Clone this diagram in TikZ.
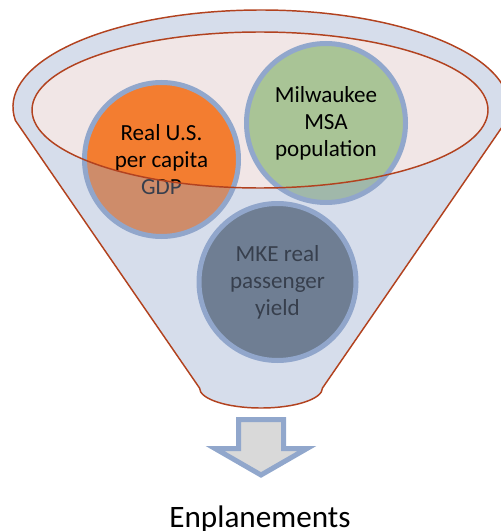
\documentclass[tikz,border=0pt]{standalone}
\usepackage{fontspec}
\setmainfont{Carlito}
\begin{document}
\begin{tikzpicture}[x=0.75pt,y=-0.75pt]
\definecolor{funnelline}{RGB}{178,66,31}
\definecolor{mouthfill}{RGB}{241,230,230}
\definecolor{ringblue}{RGB}{145,167,204}
\definecolor{glassblue}{RGB}{147,166,203}
\definecolor{gdporange}{RGB}{243,125,48}
\definecolor{popgreen}{RGB}{169,196,150}
\definecolor{yieldslate}{RGB}{89,103,113}
\definecolor{arrowgrey}{RGB}{217,217,217}
\tikzset{
  funnel body/.style={insert path={(15.4,120.5)
      arc[start angle=172, end angle=368, x radius=248, y radius=97]
      -- (322.5,388)
      arc[start angle=0, end angle=180, x radius=61.5, y radius=20]
      -- cycle}},
  funnel mouth/.style={insert path={(260,110) ellipse[x radius=228, y radius=78]}},
  factor/.style={circle, draw=ringblue, line width=3.75pt, inner sep=0pt,
      align=center, font=\fontsize{17.3}{20.3}\selectfont, text=black},
  rim/.style={draw=funnelline, line width=1.1pt},
}
\useasboundingbox (0,0) rectangle (500,531);

% back of the funnel: the open mouth
\fill[mouthfill, funnel mouth];

% the three input factors
\node[factor, fill=gdporange, minimum size=115.5pt] (gdp) at (161.5,159.5)
  {Real U.S.\\per capita\\GDP};
\node[factor, fill=popgreen, minimum size=119.25pt] (pop) at (326,123)
  {Milwaukee\\MSA\\population};
\node[factor, fill=yieldslate, minimum size=117.75pt] (yield) at (277.5,282)
  {MKE real\\passenger\\yield};

% translucent front wall of the funnel
\fill[glassblue, fill opacity=0.38, even odd rule, funnel body, funnel mouth];

% funnel outlines
\path[rim, funnel body];
\path[rim, funnel mouth];

% block arrow out of the funnel
\draw[draw=ringblue, fill=arrowgrey, line width=3.75pt, line join=miter]
  (238.5,419.5) -- (283.5,419.5) -- (283.5,448.5) -- (307,448.5)
  -- (261,475) -- (215,448.5) -- (238.5,448.5) -- cycle;

\node[anchor=base, font=\fontsize{23.4}{28}\selectfont, inner sep=0pt]
  (out) at (260,527) {Enplanements};
\end{tikzpicture}
\end{document}
